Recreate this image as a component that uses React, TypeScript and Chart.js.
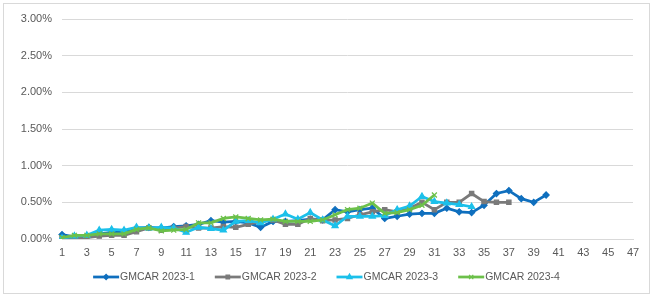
import React, { useEffect, useRef } from "react";
import { Chart, registerables } from "chart.js";
import { drawPoint } from "chart.js/helpers";

Chart.register(...registerables);

// Months since issuance (1..47)
const periods: string[] = Array.from({ length: 47 }, (_, i) => String(i + 1));

// Cumulative net loss, percent
const gmcar2023_1: number[] = [
  0.06, 0.03, 0.04, 0.07, 0.09, 0.10, 0.15, 0.16, 0.15, 0.17,
  0.18, 0.20, 0.25, 0.23, 0.24, 0.22, 0.16, 0.24, 0.24, 0.25,
  0.27, 0.26, 0.40, 0.37, 0.40, 0.42, 0.28, 0.31, 0.34, 0.35,
  0.35, 0.42, 0.37, 0.36, 0.46, 0.62, 0.66, 0.55, 0.50, 0.60,
];
const gmcar2023_2: number[] = [
  0.01, 0.02, 0.02, 0.04, 0.05, 0.05, 0.10, 0.15, 0.12, 0.15,
  0.17, 0.15, 0.15, 0.17, 0.16, 0.20, 0.24, 0.26, 0.20, 0.20,
  0.28, 0.25, 0.26, 0.28, 0.33, 0.37, 0.40, 0.37, 0.42, 0.50,
  0.40, 0.50, 0.50, 0.62, 0.51, 0.50, 0.50,
];
const gmcar2023_3: number[] = [
  0.01, 0.04, 0.05, 0.12, 0.13, 0.12, 0.16, 0.15, 0.16, 0.15,
  0.09, 0.16, 0.14, 0.12, 0.24, 0.25, 0.22, 0.27, 0.34, 0.27,
  0.36, 0.26, 0.18, 0.31, 0.31, 0.31, 0.32, 0.40, 0.45, 0.58,
  0.51, 0.49, 0.47, 0.44,
];
const gmcar2023_4: number[] = [
  0.02, 0.05, 0.05, 0.07, 0.07, 0.07, 0.13, 0.15, 0.11, 0.12,
  0.13, 0.22, 0.22, 0.28, 0.30, 0.28, 0.26, 0.27, 0.24, 0.24,
  0.24, 0.26, 0.33, 0.40, 0.42, 0.49, 0.35, 0.36, 0.40, 0.46,
  0.60,
];

const seriesNames = ["GMCAR 2023-1", "GMCAR 2023-2", "GMCAR 2023-3", "GMCAR 2023-4"];
const seriesColors = ["#0F6FBE", "#7A7A7A", "#1CC0EA", "#6CC04A"];
const seriesMarkers = ["rectRot", "rect", "triangle", "crossRot"] as const;
const markerRadius = [3, 3, 3.5, 3.5];

const FONT = "'Liberation Sans', Arial, sans-serif";
const TEXT = "#595959";
const GRID = "#D9D9D9";

// Legend drawn as line + marker swatches centred below the axis
const lineLegend = {
  id: "lineLegend",
  afterDraw(chart: any) {
    const ctx: CanvasRenderingContext2D = chart.ctx;
    const y = 277;
    const swatch = 26;
    const gapText = 1;
    const gapItem = 20;
    ctx.save();
    ctx.font = `10.5px ${FONT}`;
    const widths = seriesNames.map((n) => ctx.measureText(n).width);
    const total =
      widths.reduce((a, w) => a + swatch + gapText + w, 0) + gapItem * (seriesNames.length - 1);
    let x = chart.width / 2 - total / 2;
    seriesNames.forEach((name, i) => {
      ctx.strokeStyle = seriesColors[i];
      ctx.fillStyle = seriesColors[i];
      ctx.lineWidth = 2.75;
      ctx.beginPath();
      ctx.moveTo(x, y);
      ctx.lineTo(x + swatch, y);
      ctx.stroke();
      ctx.lineWidth = 1.25;
      drawPoint(
        ctx,
        { pointStyle: seriesMarkers[i], radius: markerRadius[i] - 0.5, rotation: 0, borderWidth: 1.25 } as any,
        x + swatch / 2,
        y
      );
      ctx.fillStyle = TEXT;
      ctx.textBaseline = "middle";
      ctx.textAlign = "left";
      ctx.fillText(name, x + swatch + gapText, y);
      x += swatch + gapText + widths[i] + gapItem;
    });
    ctx.restore();
  },
};

export default function App() {
  const canvasRef = useRef<HTMLCanvasElement | null>(null);

  useEffect(() => {
    if (!canvasRef.current) return;
    const all = [gmcar2023_1, gmcar2023_2, gmcar2023_3, gmcar2023_4];
    const chart = new Chart(canvasRef.current, {
      type: "line",
      data: {
        labels: periods,
        datasets: all.map((vals, i) => ({
          label: seriesNames[i],
          data: vals,
          order: all.length - 1 - i,
          borderColor: seriesColors[i],
          backgroundColor: seriesColors[i],
          borderWidth: 2.75,
          pointStyle: seriesMarkers[i],
          pointRadius: markerRadius[i],
          pointBorderWidth: 1.25,
          pointBorderColor: seriesColors[i],
          pointBackgroundColor: seriesColors[i],
          tension: 0,
          fill: false,
        })),
      },
      options: {
        animation: false,
        responsive: false,
        maintainAspectRatio: false,
        layout: { padding: { left: 0, right: 20, top: 19, bottom: 37 } },
        plugins: {
          legend: { display: false },
          tooltip: { enabled: false },
        },
        scales: {
          x: {
            type: "category",
            offset: false,
            grid: { display: false, drawTicks: false },
            border: { display: true, color: GRID, width: 1 },
            afterFit: (s: any) => {
              s.height = 20;
            },
            ticks: {
              autoSkip: false,
              maxRotation: 0,
              padding: 7,
              color: TEXT,
              font: { family: FONT, size: 11 },
              callback: (_v: any, idx: number) => (idx % 2 === 0 ? periods[idx] : ""),
            },
          },
          y: {
            min: 0,
            max: 3,
            grid: { color: GRID, lineWidth: 1, drawTicks: false },
            border: { display: false },
            afterFit: (s: any) => {
              s.width = 62;
            },
            ticks: {
              stepSize: 0.5,
              padding: 10,
              color: TEXT,
              font: { family: FONT, size: 11 },
              callback: (v: any) => Number(v).toFixed(2) + "%",
            },
          },
        },
      },
      plugins: [lineLegend],
    });
    return () => chart.destroy();
  }, []);

  return (
    <div
      style={{
        position: "fixed",
        left: 0,
        top: 0,
        width: 653,
        height: 296,
        background: "#fff",
      }}
    >
      <div
        style={{
          position: "absolute",
          left: 3,
          top: 3,
          width: 645,
          height: 289,
          border: "1px solid #D9D9D9",
        }}
      />
      <canvas
        ref={canvasRef}
        width={653}
        height={296}
        style={{ position: "absolute", left: 0, top: 0, width: 653, height: 296 }}
      />
    </div>
  );
}
